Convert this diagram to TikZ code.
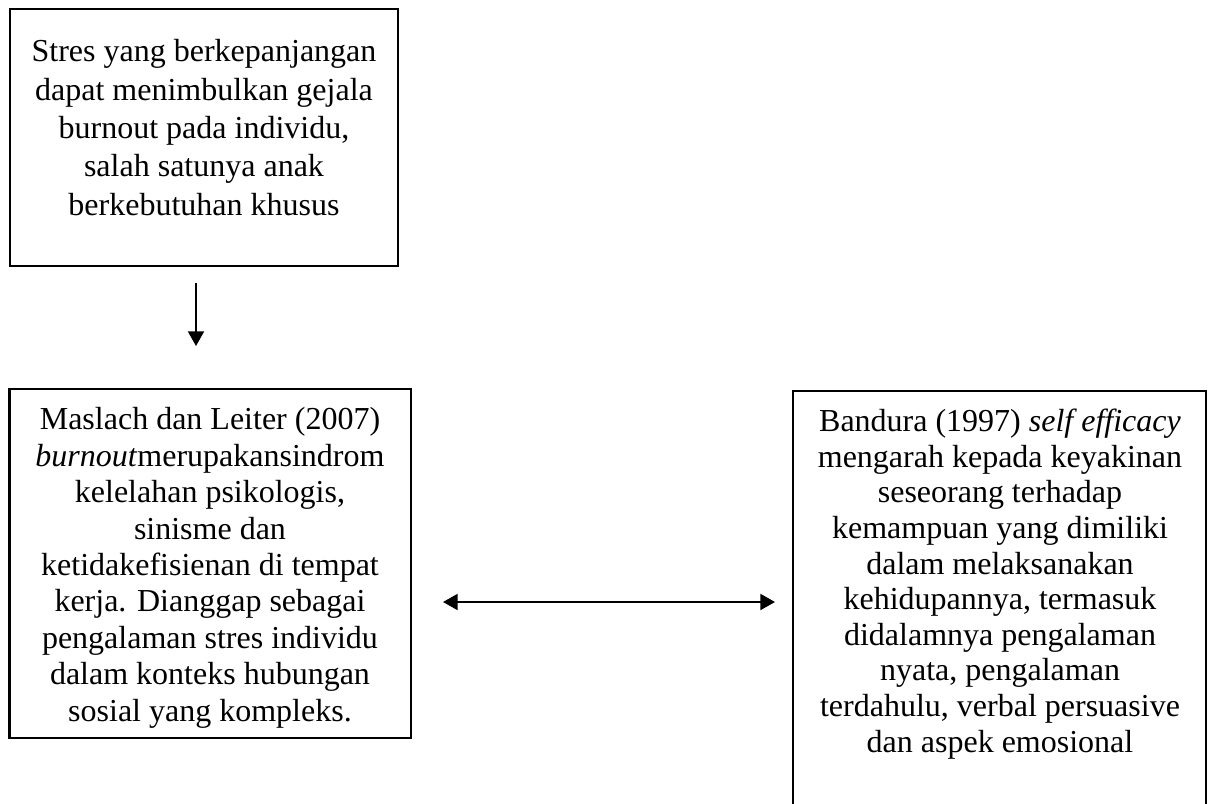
\documentclass[tikz,border=0pt]{standalone}
\usepackage{fontspec}
\setmainfont{Liberation Serif}
\usetikzlibrary{positioning,arrows.meta}

\begin{document}
\begin{tikzpicture}[
    x=0.75pt, y=-0.75pt,
    >={Triangle[length=11pt,width=12pt]},
    box/.style={draw, line width=1.8pt, inner sep=0pt},
    txt/.style={align=center, inner sep=0pt, anchor=base},
    arr/.style={line width=1.5pt},
    every node/.style={font=\fontsize{24}{28.7}\selectfont}
]

\useasboundingbox (0,0) rectangle (1213,803);

% Top box: stress (text placed by its last baseline)
\node[box, minimum width=291pt, minimum height=192.75pt] (stres) at (204,137.5) {};
\node[txt] (stresText) at (204,215) {Stres yang berkepanjangan\\dapat menimbulkan gejala\\burnout pada individu,\\salah satunya anak\\berkebutuhan khusus};

% Arrow down
\coordinate (downTop) at (196,283);
\coordinate (downEnd) at (196,346);
\draw[arr, ->] (downTop) -- (downEnd);

% Left box: burnout
\node[box, minimum width=301.1pt, minimum height=261.75pt] (burnout) at (210.25,563.5) {};
\node[txt, font=\fontsize{24}{27.3}\selectfont] (burnoutText) at (210,721) {Maslach dan Leiter (2007)\\\textit{burnout}merupakansindrom\\kelelahan psikologis,\\sinisme dan\\ketidakefisienan di tempat\\kerja. Dianggap sebagai\\pengalaman stres individu\\dalam konteks hubungan\\sosial yang kompleks.};

% Right box: self efficacy (bottom runs off the page)
\node[box, minimum width=309.75pt, minimum height=344.25pt] (efficacy) at (999.5,620.5) {};
\node[txt, font=\fontsize{24}{26.7}\selectfont] (efficacyText) at (1000,752) {Bandura (1997) \textit{self efficacy}\\mengarah kepada keyakinan\\seseorang terhadap\\kemampuan yang dimiliki\\dalam melaksanakan\\kehidupannya, termasuk\\didalamnya pengalaman\\nyata, pengalaman\\terdahulu, verbal persuasive\\dan aspek emosional};

% Two-way link
\coordinate (linkLeft) at (443,602);
\coordinate (linkRight) at (775,602);
\draw[arr, <->] (linkLeft) -- (linkRight);

\end{tikzpicture}
\end{document}
